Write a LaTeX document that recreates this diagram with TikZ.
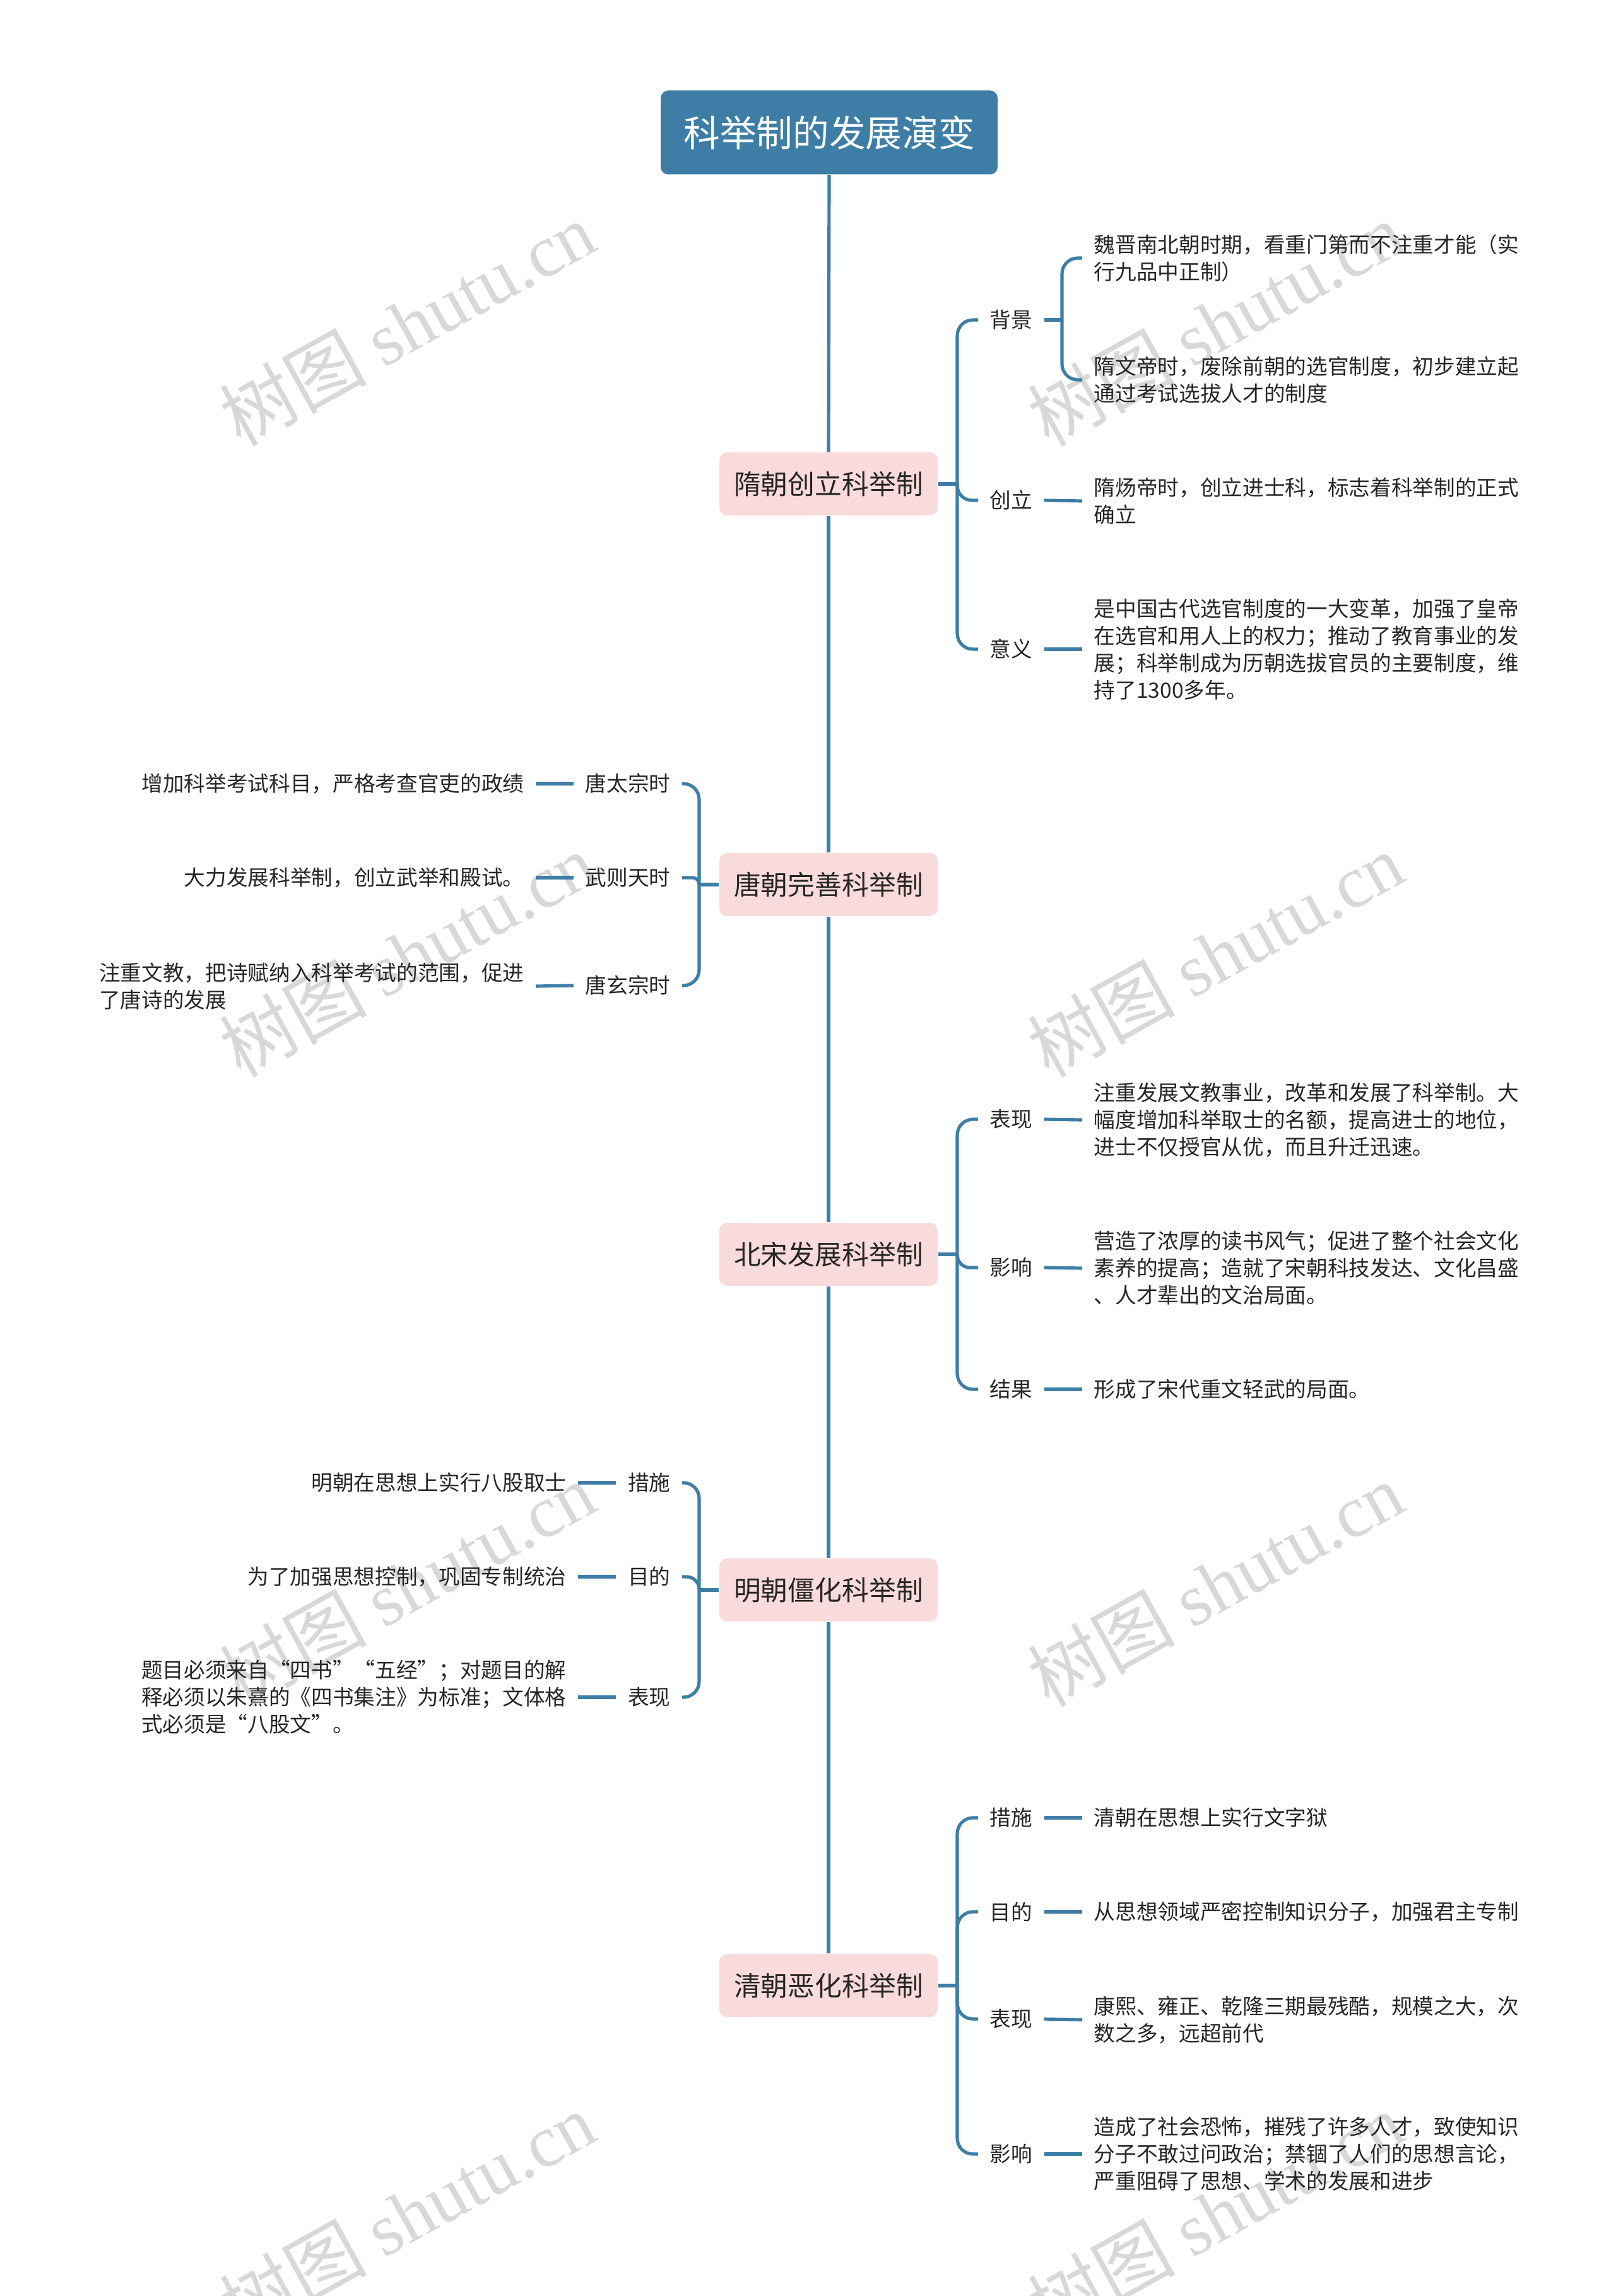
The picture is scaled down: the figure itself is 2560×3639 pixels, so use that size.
\documentclass[tikz,border=0pt]{standalone}
\usepackage{fontspec}
\setmainfont{Noto Sans CJK SC}
\newfontfamily\fwfont[RawFeature=+fwid]{Noto Sans CJK SC}
\newfontfamily\wmserif{Liberation Serif}
\newcommand{\fwq}[1]{{\fwfont #1}}
\definecolor{lc}{HTML}{3E7EA6}
\definecolor{pk}{HTML}{FADBDB}
\definecolor{tc}{HTML}{262626}
\definecolor{wmc}{HTML}{D8D8D8}
\tikzset{
  conn/.style={draw=lc, line width=1.55pt},
  rootbox/.style={fill=lc, rounded corners=3.6pt, text=white, font=\fontsize{17.3pt}{20pt}\selectfont, minimum width=160.2pt, minimum height=39.9pt, inner sep=0pt},
  topic/.style={fill=pk, rounded corners=3.6pt, text=tc, font=\fontsize{12.85pt}{15pt}\selectfont, minimum width=103.8pt, minimum height=30pt, inner sep=0pt},
  lab/.style={text=tc, font=\fontsize{10.1pt}{12.9pt}\selectfont, inner xsep=5.4pt, inner ysep=2pt},
  leaf/.style={text=tc, font=\fontsize{10.1pt}{12.9pt}\selectfont, align=left, inner xsep=5.4pt, inner ysep=2pt},
  wm/.style={text=wmc, rotate=29, font=\fontsize{35pt}{38pt}\selectfont, inner sep=0pt}
}
\begin{document}
\begin{tikzpicture}[x=0.3pt,y=-0.3pt]
\useasboundingbox (0,0) rectangle (2560,3639);
% watermarks
\node[wm] (w1) at (645,513) {树图 {\wmserif shutu.cn}};
\node[wm] (w2) at (1926,513) {树图 {\wmserif shutu.cn}};
\node[wm] (w3) at (645,1513) {树图 {\wmserif shutu.cn}};
\node[wm] (w4) at (1926,1513) {树图 {\wmserif shutu.cn}};
\node[wm] (w5) at (645,2511) {树图 {\wmserif shutu.cn}};
\node[wm] (w6) at (1926,2511) {树图 {\wmserif shutu.cn}};
\node[wm] (w7) at (645,3509) {树图 {\wmserif shutu.cn}};
\node[wm] (w8) at (1926,3509) {树图 {\wmserif shutu.cn}};

% root and topics
\node[rootbox] (root) at (1314,210) {科举制的发展演变};
\node[topic] (sui) at (1313,767) {隋朝创立科举制};
\node[topic] (tang) at (1313,1402) {唐朝完善科举制};
\node[topic] (song) at (1313,1988) {北宋发展科举制};
\node[topic] (ming) at (1313,2520) {明朝僵化科举制};
\node[topic] (qing) at (1313,3147) {清朝恶化科举制};

\draw[conn] (root.south) -- (sui.north);
\draw[conn] (sui.south) -- (tang.north);
\draw[conn] (tang.south) -- (song.north);
\draw[conn] (song.south) -- (ming.north);
\draw[conn] (ming.south) -- (qing.north);

% junctions
\coordinate (suij) at (1517,767);
\coordinate (tangj) at (1108,1402);
\coordinate (songj) at (1517,1988);
\coordinate (mingj) at (1108,2520);
\coordinate (qingj) at (1517,3147);
\coordinate (bgj) at (1683,507);

% ---------- Sui ----------
\node[lab, anchor=west] (sbg) at (1550,507) {背景};
\node[lab, anchor=west] (scl) at (1550,793) {创立};
\node[lab, anchor=west] (syy) at (1550,1029) {意义};
\node[leaf, anchor=west] (sbg1) at (1715,409) {魏晋南北朝时期，看重门第而不注重才能（实\\行九品中正制）};
\node[leaf, anchor=west] (sbg2) at (1715,602) {隋文帝时，废除前朝的选官制度，初步建立起\\通过考试选拔人才的制度};
\node[leaf, anchor=west] (scl1) at (1715,794) {隋炀帝时，创立进士科，标志着科举制的正式\\确立};
\node[leaf, anchor=west] (syy1) at (1715,1029) {是中国古代选官制度的一大变革，加强了皇帝\\在选官和用人上的权力；推动了教育事业的发\\展；科举制成为历朝选拔官员的主要制度，维\\持了1300多年。};
\draw[conn] (sui.east) -- (suij);
\draw[conn, rounded corners=7.5pt] (suij) |- (sbg.west);
\draw[conn, rounded corners=7pt] (suij) |- (scl.west);
\draw[conn, rounded corners=7.5pt] (suij) |- (syy.west);
\draw[conn] (sbg.east) -- (bgj);
\draw[conn, rounded corners=7.5pt] (bgj) |- (sbg1.west);
\draw[conn, rounded corners=7.5pt] (bgj) |- (sbg2.west);
\draw[conn] (scl.east) -- (scl1.west);
\draw[conn] (syy.east) -- (syy1.west);

% ---------- Tang ----------
\node[lab, anchor=east] (tts) at (1081,1242) {唐太宗时};
\node[lab, anchor=east] (twz) at (1081,1391) {武则天时};
\node[lab, anchor=east] (txz) at (1081,1562) {唐玄宗时};
\node[leaf, anchor=east] (tts1) at (849,1242) {增加科举考试科目，严格考查官吏的政绩};
\node[leaf, anchor=east] (twz1) at (849,1391) {大力发展科举制，创立武举和殿试。};
\node[leaf, anchor=east] (txz1) at (849,1563) {注重文教，把诗赋纳入科举考试的范围，促进\\了唐诗的发展};
\draw[conn] (tang.west) -- (tangj);
\draw[conn, rounded corners=7.5pt] (tangj) |- (tts.east);
\draw[conn, rounded corners=3.2pt] (tangj) |- (twz.east);
\draw[conn, rounded corners=7.5pt] (tangj) |- (txz.east);
\draw[conn] (tts.west) -- (tts1.east);
\draw[conn] (twz.west) -- (twz1.east);
\draw[conn] (txz.west) -- (txz1.east);

% ---------- Song ----------
\node[lab, anchor=west] (sbx) at (1550,1774) {表现};
\node[lab, anchor=west] (syx) at (1550,2009) {影响};
\node[lab, anchor=west] (sjg) at (1550,2202) {结果};
\node[leaf, anchor=west] (sbx1) at (1715,1775) {注重发展文教事业，改革和发展了科举制。大\\幅度增加科举取士的名额，提高进士的地位，\\进士不仅授官从优，而且升迁迅速。};
\node[leaf, anchor=west] (syx1) at (1715,2010) {营造了浓厚的读书风气；促进了整个社会文化\\素养的提高；造就了宋朝科技发达、文化昌盛\\、人才辈出的文治局面。};
\node[leaf, anchor=west] (sjg1) at (1715,2202) {形成了宋代重文轻武的局面。};
\draw[conn] (song.east) -- (songj);
\draw[conn, rounded corners=7.5pt] (songj) |- (sbx.west);
\draw[conn, rounded corners=6pt] (songj) |- (syx.west);
\draw[conn, rounded corners=7.5pt] (songj) |- (sjg.west);
\draw[conn] (sbx.east) -- (sbx1.west);
\draw[conn] (syx.east) -- (syx1.west);
\draw[conn] (sjg.east) -- (sjg1.west);

% ---------- Ming ----------
\node[lab, anchor=east] (mcs) at (1081,2350) {措施};
\node[lab, anchor=east] (mmd) at (1081,2499) {目的};
\node[lab, anchor=east] (mbx) at (1081,2690) {表现};
\node[leaf, anchor=east] (mcs1) at (916,2350) {明朝在思想上实行八股取士};
\node[leaf, anchor=east] (mmd1) at (916,2499) {为了加强思想控制，巩固专制统治};
\node[leaf, anchor=east] (mbx1) at (916,2690) {题目必须来自\fwq{“}四书\fwq{”}\fwq{“}五经\fwq{”}；对题目的解\\释必须以朱熹的《四书集注》为标准；文体格\\式必须是\fwq{“}八股文\fwq{”}。};
\draw[conn] (ming.west) -- (mingj);
\draw[conn, rounded corners=7.5pt] (mingj) |- (mcs.east);
\draw[conn, rounded corners=6pt] (mingj) |- (mmd.east);
\draw[conn, rounded corners=7.5pt] (mingj) |- (mbx.east);
\draw[conn] (mcs.west) -- (mcs1.east);
\draw[conn] (mmd.west) -- (mmd1.east);
\draw[conn] (mbx.west) -- (mbx1.east);

% ---------- Qing ----------
\node[lab, anchor=west] (qcs) at (1550,2881) {措施};
\node[lab, anchor=west] (qmd) at (1550,3030) {目的};
\node[lab, anchor=west] (qbx) at (1550,3200) {表现};
\node[lab, anchor=west] (qyx) at (1550,3414) {影响};
\node[leaf, anchor=west] (qcs1) at (1715,2881) {清朝在思想上实行文字狱};
\node[leaf, anchor=west] (qmd1) at (1715,3030) {从思想领域严密控制知识分子，加强君主专制};
\node[leaf, anchor=west] (qbx1) at (1715,3201) {康熙、雍正、乾隆三期最残酷，规模之大，次\\数之多，远超前代};
\node[leaf, anchor=west] (qyx1) at (1715,3414) {造成了社会恐怖，摧残了许多人才，致使知识\\分子不敢过问政治；禁锢了人们的思想言论，\\严重阻碍了思想、学术的发展和进步};
\draw[conn] (qing.east) -- (qingj);
\draw[conn, rounded corners=7.5pt] (qingj) |- (qcs.west);
\draw[conn, rounded corners=7.5pt] (qingj) |- (qmd.west);
\draw[conn, rounded corners=7.5pt] (qingj) |- (qbx.west);
\draw[conn, rounded corners=7.5pt] (qingj) |- (qyx.west);
\draw[conn] (qcs.east) -- (qcs1.west);
\draw[conn] (qmd.east) -- (qmd1.west);
\draw[conn] (qbx.east) -- (qbx1.west);
\draw[conn] (qyx.east) -- (qyx1.west);
\end{tikzpicture}
\end{document}
